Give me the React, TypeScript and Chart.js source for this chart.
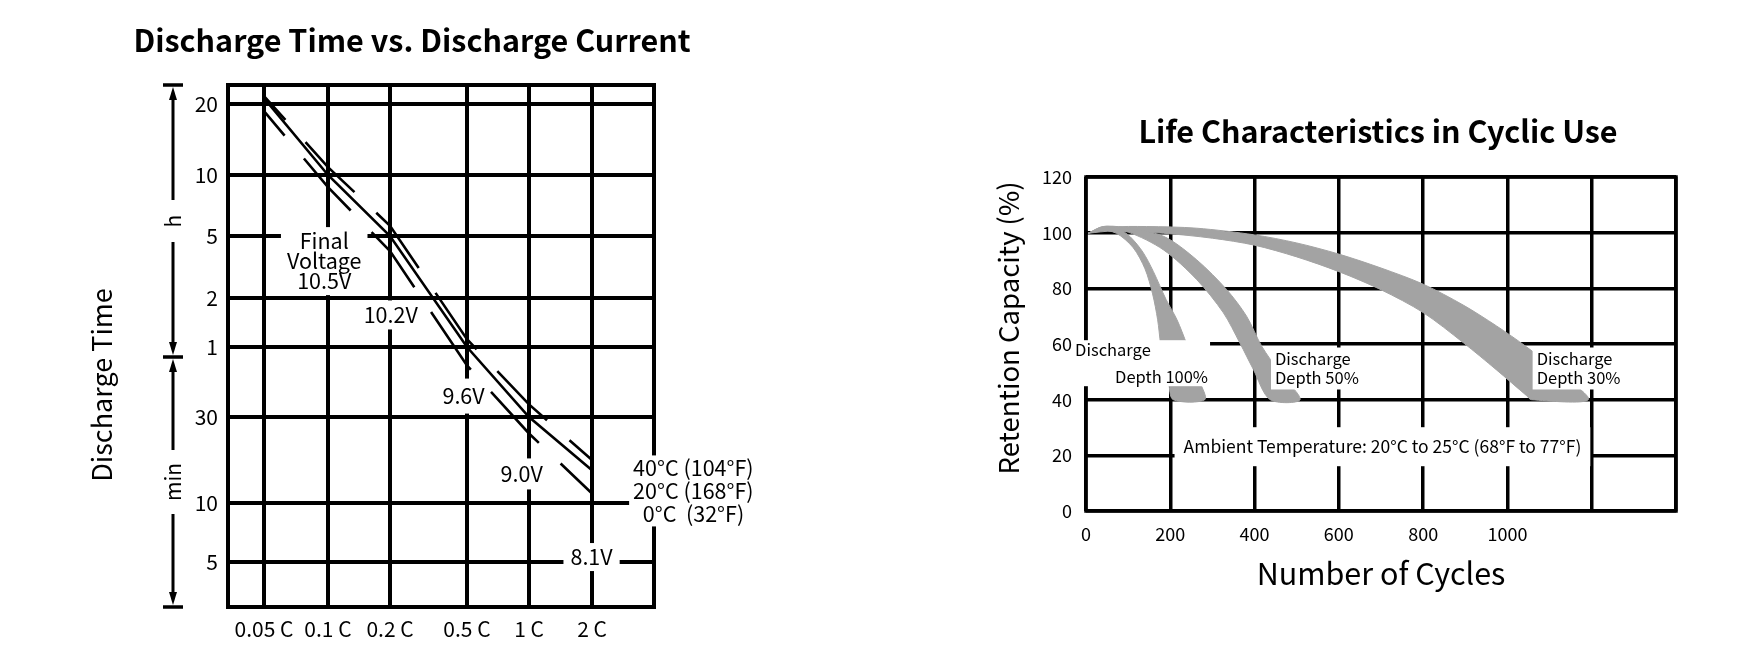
import React, { useEffect, useRef } from 'react';
import { Chart, registerables, LogarithmicScale } from 'chart.js';

const FONT = '"Noto Sans CJK JP", "Noto Sans", sans-serif';

// ---------- Left chart: Discharge Time vs. Discharge Current ----------
const currentTicks = [0.05, 0.1, 0.2, 0.5, 1, 2];
const currentTickLabels = ['0.05 C', '0.1 C', '0.2 C', '0.5 C', '1 C', '2 C'];
const timeTicksMin = [1200, 600, 300, 120, 60, 30, 10, 5];
const timeTickLabels = ['20', '10', '5', '2', '1', '30', '10', '5'];
// discharge time (minutes) at each current
const time40C = [1295, 648, 337, 67, 34, 17.3];
const time20C = [1270, 600, 300, 60, 30, 15.2];
const time0C = [1120, 523, 240, 50, 24.3, 11.3];
const tempLabels = ['40°C (104°F)', '20°C (168°F)', '  0°C  (32°F)'];
const voltageLabels = ['10.5V', '10.2V', '9.6V', '9.0V', '8.1V'];
// the printed axes are hand-drawn log grids: calibration of each grid value to its share of the axis length
const currentAxisValues = [0.0339, 0.05, 0.1, 0.2, 0.5, 1, 2, 3.96];
const currentAxisShares = [0, 0.0845, 0.2347, 0.3803, 0.561, 0.7066, 0.8545, 1];
const timeAxisValues = [2.95, 5, 10, 30, 60, 120, 300, 600, 1200, 1443];
const timeAxisShares = [0, 0.0862, 0.1992, 0.364, 0.4981, 0.592, 0.7107, 0.8276, 0.9636, 1];
const hourMinuteSplit = 54.3;

// ---------- Right chart: Life Characteristics in Cyclic Use ----------
const cycleTicks = [0, 200, 400, 600, 800, 1000, 1200, 1400];
const cycleTickLabels = ['0', '200', '400', '600', '800', '1000', '', ''];
const capacityTicks = [0, 20, 40, 60, 80, 100, 120];
// [cycles, retention %]
const depth100Outer = [[5, 99.8], [40, 102.2], [75, 101.6], [105, 98.5], [135, 93], [160, 86], [190, 76], [216, 68.7], [239, 60], [256, 53], [270, 46.5], [282, 40]];
const depth100Inner = [[5, 99.8], [33, 100.9], [72, 99.8], [112, 94.6], [140, 87], [158, 78], [170, 68.7], [177, 60], [186, 52], [196, 46], [207, 40]];
const depth50Outer = [[5, 99.8], [41, 102.2], [89, 101.9], [184, 98.7], [263, 90.2], [334, 79.5], [381, 70], [417, 59.2], [460, 49.7], [508, 40]];
const depth50Inner = [[5, 99.8], [49, 100.9], [100, 100.2], [184, 93.8], [263, 83.1], [326, 71.2], [365, 60.4], [397, 50.9], [437, 40]];
const depth30Outer = [[5, 99.8], [57, 101.9], [144, 102.2], [263, 101.6], [400, 99.2], [500, 96.3], [600, 92.3], [700, 87.3], [800, 81.5], [895, 74], [974, 66.5], [1045, 59], [1120, 50], [1192, 40]];
const depth30Inner = [[5, 99.8], [65, 100.6], [184, 99.8], [300, 98], [400, 95.5], [500, 91.3], [600, 86], [700, 79.5], [800, 71.3], [895, 60.5], [974, 50.7], [1045, 41.5], [1057, 40]];

type Note = {
  x: number; y: number; lines: string[]; align: 'center' | 'left';
  lh: number; padX: number; padY: number; indents?: number[]; size: number;
};

const leftNotes: Note[] = [
  { x: 0.096, y: 207, lines: ['Final', 'Voltage', voltageLabels[0]], align: 'center', lh: 20, padX: 6, padY: 4, size: 21.5 },
  { x: 0.2018, y: 94.4, lines: [voltageLabels[1]], align: 'center', lh: 22, padX: 4, padY: 3.5, size: 21.5 },
  { x: 0.48, y: 36.9, lines: [voltageLabels[2]], align: 'center', lh: 22, padX: 4, padY: 6.5, size: 21.5 },
  { x: 0.9215, y: 14.5, lines: [voltageLabels[3]], align: 'center', lh: 22, padX: 4, padY: 4.5, size: 21.5 },
  { x: 1.99, y: 5.3, lines: [voltageLabels[4]], align: 'center', lh: 22, padX: 7, padY: 3, size: 21.5 },
  { x: 3.146, y: 11.67, lines: tempLabels, align: 'left', lh: 23, padX: 4, padY: 1, size: 21.5 },
];

const rightNotes: Note[] = [
  { x: -26, y: 53.1, lines: ['Discharge', 'Depth 100%'], indents: [0, 40], align: 'left', lh: 27, padX: 2, padY: -4, size: 16.5 },
  { x: 448.4, y: 51.2, lines: ['Discharge', 'Depth 50%'], align: 'left', lh: 19, padX: 4, padY: 2, size: 16.5 },
  { x: 1069.3, y: 51.2, lines: ['Discharge', 'Depth 30%'], align: 'left', lh: 19, padX: 4, padY: 2, size: 16.5 },
  { x: 703.4, y: 23.1, lines: ['Ambient Temperature: 20°C to 25°C (68°F to 77°F)'], align: 'center', lh: 20, padX: 9, padY: 9.5, size: 17.5 },
];

// Log scale whose decades follow the printed (uneven) grid of the original chart
const printedAxes: Record<string, { values: number[]; shares: number[] }> = {
  x: { values: currentAxisValues, shares: currentAxisShares },
  y: { values: timeAxisValues, shares: timeAxisShares },
};
function warpShare(axis: string, v: number) {
  const { values, shares } = printedAxes[axis];
  const lv = Math.log10(v);
  const logs = values.map((t) => Math.log10(t));
  let i = 0;
  while (i < logs.length - 2 && lv > logs[i + 1]) i++;
  const t = (lv - logs[i]) / (logs[i + 1] - logs[i]);
  return shares[i] + t * (shares[i + 1] - shares[i]);
}
function unwarpShare(axis: string, s: number) {
  const { values, shares } = printedAxes[axis];
  const logs = values.map((t) => Math.log10(t));
  let i = 0;
  while (i < shares.length - 2 && s > shares[i + 1]) i++;
  const t = (s - shares[i]) / (shares[i + 1] - shares[i]);
  return Math.pow(10, logs[i] + t * (logs[i + 1] - logs[i]));
}
class PrintedLogScale extends (LogarithmicScale as any) {
  static id = 'printedLog';
  static defaults = {};
  getPixelForValue(value: number) {
    if (value === undefined || value === null || !(value > 0)) return NaN;
    return (this as any).getPixelForDecimal(warpShare((this as any).id, value));
  }
  getValueForPixel(pixel: number) {
    return unwarpShare((this as any).id, (this as any).getDecimalForPixel(pixel));
  }
}

Chart.register(...registerables, PrintedLogScale as any);

function pairs(xs: number[], ys: number[]) {
  return xs.map((x, i) => ({ x, y: ys[i] }));
}
function polygon(outer: number[][], inner: number[][]) {
  return [...outer, ...inner.slice().reverse()].map(([x, y]) => ({ x, y }));
}

function drawNotes(chart: any, notes: Note[]) {
  const { ctx } = chart;
  const xs = chart.scales.x;
  const ys = chart.scales.y;
  ctx.save();
  ctx.textBaseline = 'middle';
  for (const n of notes) {
    ctx.font = `${n.size}px ${FONT}`;
    const px = xs.getPixelForValue(n.x);
    const py = ys.getPixelForValue(n.y);
    const ind = n.indents || n.lines.map(() => 0);
    const widths = n.lines.map((l, i) => ctx.measureText(l).width + ind[i]);
    const w = Math.max(...widths);
    const h = n.lines.length * n.lh;
    const left = n.align === 'center' ? px - w / 2 : px;
    const top = py - h / 2;
    ctx.fillStyle = '#fff';
    ctx.fillRect(left - n.padX, top - n.padY, w + 2 * n.padX, h + 2 * n.padY);
    ctx.fillStyle = '#000';
    n.lines.forEach((l, i) => {
      const ly = top + n.lh * (i + 0.5);
      if (n.align === 'center') {
        ctx.textAlign = 'center';
        ctx.fillText(l, px, ly);
      } else {
        ctx.textAlign = 'left';
        ctx.fillText(l, px + ind[i], ly);
      }
    });
  }
  ctx.restore();
}

function arrow(ctx: CanvasRenderingContext2D, x: number, y: number, dir: number) {
  ctx.beginPath();
  ctx.moveTo(x, y);
  ctx.lineTo(x - 4, y - dir * 13);
  ctx.lineTo(x + 4, y - dir * 13);
  ctx.closePath();
  ctx.fill();
}

const leftDecor = {
  id: 'leftDecor',
  beforeDatasetsDraw(chart: any) {
    const { ctx, chartArea: a } = chart;
    ctx.save();
    ctx.strokeStyle = '#000';
    ctx.lineWidth = 4;
    ctx.strokeRect(a.left, a.top, a.right - a.left, a.bottom - a.top);
    ctx.restore();
  },
  afterDatasetsDraw(chart: any) {
    drawNotes(chart, leftNotes);
  },
  afterDraw(chart: any) {
    const { ctx, chartArea: a } = chart;
    ctx.save();
    ctx.fillStyle = '#000';
    ctx.strokeStyle = '#000';
    ctx.textAlign = 'center';
    ctx.textBaseline = 'middle';
    ctx.font = `bold 30.5px ${FONT}`;
    ctx.fillText('Discharge Time vs. Discharge Current', chart.width / 2, 40);

    ctx.font = `27px ${FONT}`;
    ctx.save();
    ctx.translate(a.left - 126, (a.top + a.bottom) / 2 + 39);
    ctx.rotate(-Math.PI / 2);
    ctx.fillText('Discharge Time', 0, 0);
    ctx.restore();

    // h / min bracket
    const bx = a.left - 55;
    const yTop = a.top;
    const yBot = a.bottom;
    const ySep = chart.scales.y.getPixelForValue(hourMinuteSplit);
    const hMid = (yTop + ySep) / 2;
    const mMid = (ySep + yBot) / 2;
    ctx.lineWidth = 3.5;
    ctx.beginPath();
    for (const y of [yTop, ySep, yBot]) {
      ctx.moveTo(bx - 10, y);
      ctx.lineTo(bx + 10, y);
    }
    ctx.stroke();
    ctx.lineWidth = 3;
    ctx.beginPath();
    ctx.moveTo(bx, yTop + 10); ctx.lineTo(bx, hMid - 21);
    ctx.moveTo(bx, hMid + 21); ctx.lineTo(bx, ySep - 10);
    ctx.moveTo(bx, ySep + 10); ctx.lineTo(bx, mMid - 32);
    ctx.moveTo(bx, mMid + 32); ctx.lineTo(bx, yBot - 10);
    ctx.stroke();
    arrow(ctx, bx, yTop + 2, -1);
    arrow(ctx, bx, ySep - 2, 1);
    arrow(ctx, bx, ySep + 2, -1);
    arrow(ctx, bx, yBot - 2, 1);
    ctx.font = `21px ${FONT}`;
    for (const [t, y] of [['h', hMid], ['min', mMid]] as [string, number][]) {
      ctx.save();
      ctx.translate(bx, y);
      ctx.rotate(-Math.PI / 2);
      ctx.fillText(t, 0, 0);
      ctx.restore();
    }
    ctx.restore();
  },
};

const rightDecor = {
  id: 'rightDecor',
  beforeDatasetsDraw(chart: any) {
    const { ctx, chartArea: a } = chart;
    ctx.save();
    ctx.strokeStyle = '#000';
    ctx.lineWidth = 3.5;
    ctx.strokeRect(a.left, a.top, a.right - a.left, a.bottom - a.top);
    ctx.restore();
  },
  afterDatasetsDraw(chart: any) {
    drawNotes(chart, rightNotes);
  },
  afterDraw(chart: any) {
    const { ctx, chartArea: a } = chart;
    ctx.save();
    ctx.fillStyle = '#000';
    ctx.textAlign = 'center';
    ctx.textBaseline = 'middle';
    ctx.font = `bold 30.5px ${FONT}`;
    ctx.fillText('Life Characteristics in Cyclic Use', (a.left + a.right) / 2 - 3, 131);
    ctx.font = `30.5px ${FONT}`;
    ctx.fillText('Number of Cycles', (a.left + a.right) / 2, a.bottom + 62);
    ctx.font = `27.5px ${FONT}`;
    ctx.translate(a.left - 77, (a.top + a.bottom) / 2 - 16);
    ctx.rotate(-Math.PI / 2);
    ctx.fillText('Retention Capacity (%)', 0, 0);
    ctx.restore();
  },
};

function leftConfig(): any {
  const lineBase = { borderColor: '#000', borderWidth: 2.6, pointRadius: 0, fill: false, tension: 0 };
  return {
    type: 'line',
    data: {
      datasets: [
        { label: '40°C', data: pairs(currentTicks, time40C), ...lineBase, borderDash: [70, 30], borderDashOffset: 38 },
        { label: '20°C', data: pairs(currentTicks, time20C), ...lineBase },
        { label: '0°C', data: pairs(currentTicks, time0C), ...lineBase, borderDash: [70, 30], borderDashOffset: 38 },
      ],
    },
    options: {
      responsive: false,
      animation: false,
      layout: { padding: { left: 0, right: 170, top: 85, bottom: 0 } },
      plugins: { legend: { display: false }, title: { display: false }, tooltip: { enabled: false } },
      scales: {
        x: {
          type: 'printedLog',
          min: currentAxisValues[0],
          max: currentAxisValues[currentAxisValues.length - 1],
          afterBuildTicks: (s: any) => { s.ticks = currentTicks.map((v) => ({ value: v })); },
          afterFit: (s: any) => { s.height = 59; },
          ticks: {
            callback: (v: number) => currentTickLabels[currentTicks.indexOf(v)] ?? '',
            autoSkip: false, maxRotation: 0, padding: 9, color: '#000',
            font: { family: FONT, size: 21 },
          },
          grid: { color: '#000', lineWidth: 4, drawTicks: false },
          border: { display: false },
        },
        y: {
          type: 'printedLog',
          min: timeAxisValues[0],
          max: timeAxisValues[timeAxisValues.length - 1],
          afterBuildTicks: (s: any) => { s.ticks = timeTicksMin.map((v) => ({ value: v })); },
          afterFit: (s: any) => { s.width = 228; },
          ticks: {
            callback: (v: number) => timeTickLabels[timeTicksMin.indexOf(v)] ?? '',
            autoSkip: false, padding: 10, color: '#000',
            font: { family: FONT, size: 21 },
          },
          grid: { color: '#000', lineWidth: 4, drawTicks: false },
          border: { display: false },
        },
      },
    },
    plugins: [leftDecor],
  };
}

function rightConfig(): any {
  const band = { borderColor: '#a3a3a3', borderWidth: 1, backgroundColor: '#a3a3a3', pointRadius: 0, fill: 'shape', tension: 0.3 };
  return {
    type: 'line',
    data: {
      datasets: [
        { label: 'Depth 100%', data: polygon(depth100Outer, depth100Inner), ...band },
        { label: 'Depth 50%', data: polygon(depth50Outer, depth50Inner), ...band },
        { label: 'Depth 30%', data: polygon(depth30Outer, depth30Inner), ...band },
      ],
    },
    options: {
      responsive: false,
      animation: false,
      layout: { padding: { left: 0, right: 72, top: 177, bottom: 0 } },
      plugins: { legend: { display: false }, title: { display: false }, tooltip: { enabled: false } },
      scales: {
        x: {
          type: 'linear',
          min: 0,
          max: 1400,
          afterBuildTicks: (s: any) => { s.ticks = cycleTicks.map((v) => ({ value: v })); },
          afterFit: (s: any) => { s.height = 155; },
          ticks: {
            callback: (v: number) => cycleTickLabels[cycleTicks.indexOf(v)] ?? '',
            autoSkip: false, maxRotation: 0, padding: 12, color: '#000',
            font: { family: FONT, size: 18 },
          },
          grid: { color: '#000', lineWidth: 3.5, drawTicks: false },
          border: { display: false },
        },
        y: {
          type: 'linear',
          min: 0,
          max: 120,
          afterBuildTicks: (s: any) => { s.ticks = capacityTicks.map((v) => ({ value: v })); },
          afterFit: (s: any) => { s.width = 216; },
          ticks: {
            autoSkip: false, padding: 14, color: '#000',
            font: { family: FONT, size: 18 },
          },
          grid: { color: '#000', lineWidth: 3.5, drawTicks: false },
          border: { display: false },
        },
      },
    },
    plugins: [rightDecor],
  };
}

export default function App() {
  const leftRef = useRef<HTMLCanvasElement>(null);
  const rightRef = useRef<HTMLCanvasElement>(null);
  useEffect(() => {
    const c1 = new Chart(leftRef.current as HTMLCanvasElement, leftConfig());
    const c2 = new Chart(rightRef.current as HTMLCanvasElement, rightConfig());
    return () => {
      c1.destroy();
      c2.destroy();
    };
  }, []);
  return (
    <div style={{ position: 'absolute', left: 0, top: 0, width: 1748, height: 666, background: '#fff', overflow: 'hidden' }}>
      <canvas ref={leftRef} width={824} height={666} style={{ position: 'absolute', left: 0, top: 0, width: 824, height: 666 }} />
      <canvas ref={rightRef} width={878} height={666} style={{ position: 'absolute', left: 870, top: 0, width: 878, height: 666 }} />
    </div>
  );
}
